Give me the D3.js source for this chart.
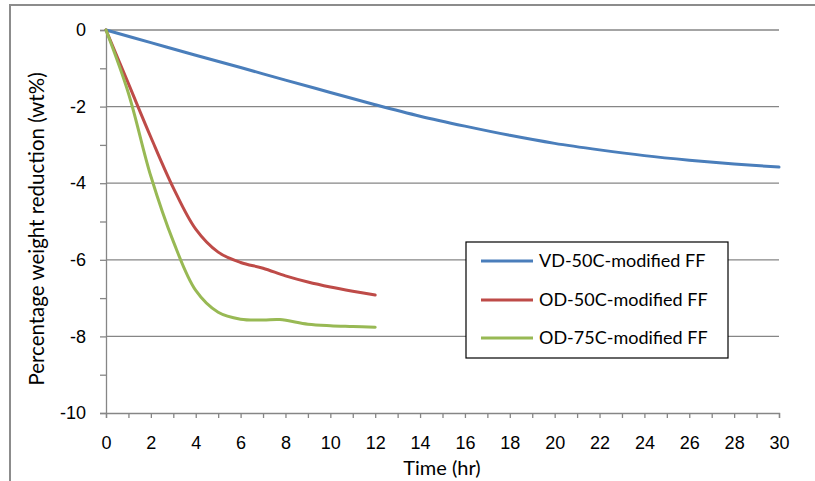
<!DOCTYPE html>
<html>
<head>
<meta charset="utf-8">
<script src="https://cdn.jsdelivr.net/npm/d3@7"></script>
<style>
  html, body { margin: 0; padding: 0; background: #fff; }
  svg { display: block; font-family: Lato, "Liberation Sans", sans-serif; }
</style>
</head>
<body>
<svg id="chart" width="815" height="481"></svg>
<script>
// Drying curves: weight reduction (wt%) over time (hr)
const vdTime  = [0, 2, 4, 6, 8, 10, 12, 14, 16, 18, 20, 22, 24, 26, 28, 30];
const vdValue = [0, -0.33, -0.66, -0.98, -1.31, -1.63, -1.95, -2.25, -2.51, -2.75, -2.96, -3.13, -3.28, -3.40, -3.50, -3.58];

const od50Time  = [0, 1, 2, 3, 4, 5, 6, 7, 8, 9, 10, 11, 12];
const od50Value = [0, -1.40, -2.80, -4.12, -5.20, -5.80, -6.07, -6.22, -6.42, -6.58, -6.71, -6.82, -6.92];

const od75Time  = [0, 1, 2, 3, 4, 5, 6, 7, 7.75, 9, 10, 11, 12];
const od75Value = [0, -1.65, -3.82, -5.52, -6.80, -7.37, -7.55, -7.57, -7.56, -7.68, -7.72, -7.74, -7.76];

const seriesNames  = ["VD-50C-modified FF", "OD-50C-modified FF", "OD-75C-modified FF"];
const seriesColors = ["#4A7EBB", "#BE4B48", "#98B954"];

const xTicks = d3.range(0, 31, 1);
const yTicks = d3.range(-10, 1, 1);
const yGridTicks = d3.range(-8, 1, 2);

const xTitle = "Time (hr)";
const yTitle = "Percentage weight reduction (wt%)";

const series = [
  { name: seriesNames[0], color: seriesColors[0], pts: vdTime.map((t, i) => [t, vdValue[i]]) },
  { name: seriesNames[1], color: seriesColors[1], pts: od50Time.map((t, i) => [t, od50Value[i]]) },
  { name: seriesNames[2], color: seriesColors[2], pts: od75Time.map((t, i) => [t, od75Value[i]]) }
];

const svg = d3.select("#chart");
const axisColor = "#868686";

// Outer chart frame (top and left edges visible)
svg.append("path")
  .attr("d", "M10,481 L10,5 L815,5")
  .attr("fill", "none")
  .attr("stroke", "#8c8c8c")
  .attr("stroke-width", 2);

const x = d3.scaleLinear().domain([0, 30]).range([106, 779]);
const y = d3.scaleLinear().domain([-10, 0]).range([413, 30]);

// Horizontal gridlines
svg.append("g")
  .selectAll("line")
  .data(yGridTicks)
  .join("line")
  .attr("x1", x(0)).attr("x2", x(30))
  .attr("y1", d => y(d)).attr("y2", d => y(d))
  .attr("stroke", axisColor)
  .attr("stroke-width", 1.3);

// Y axis
const yAxis = svg.append("g")
  .attr("transform", `translate(${x(0)},0)`)
  .call(d3.axisLeft(y).tickValues(yTicks).tickSize(6).tickPadding(14)
    .tickFormat(d => (d % 2 === 0 ? String(d) : "")));

// X axis
const xAxis = svg.append("g")
  .attr("transform", `translate(0,${y(-10)})`)
  .call(d3.axisBottom(x).tickValues(xTicks).tickSize(5).tickPadding(18)
    .tickFormat(d => (d % 2 === 0 ? String(d) : "")));

[yAxis, xAxis].forEach(g => {
  g.select(".domain").attr("stroke", axisColor).attr("stroke-width", 1.3);
  g.selectAll(".tick line").attr("stroke", axisColor).attr("stroke-width", 1.3);
  g.selectAll(".tick text").attr("fill", "#000").style("font-size", "18px");
});

// Series lines
const line = d3.line()
  .x(d => x(d[0]))
  .y(d => y(d[1]))
  .curve(d3.curveCatmullRom.alpha(0.5));

svg.append("g")
  .selectAll("path")
  .data(series)
  .join("path")
  .attr("d", d => line(d.pts))
  .attr("fill", "none")
  .attr("stroke", d => d.color)
  .attr("stroke-width", 3)
  .attr("stroke-linejoin", "round")
  .attr("stroke-linecap", "round");

// Axis titles
svg.append("text")
  .attr("x", 442)
  .attr("y", 475)
  .attr("text-anchor", "middle")
  .style("font-size", "20px")
  .text(xTitle);

svg.append("text")
  .attr("transform", "translate(44,229) rotate(-90)")
  .attr("text-anchor", "middle")
  .style("font-size", "20.5px")
  .text(yTitle);

// Legend
const legend = svg.append("g");
legend.append("rect")
  .attr("x", 466).attr("y", 242)
  .attr("width", 262).attr("height", 116)
  .attr("fill", "#fff")
  .attr("stroke", "#000")
  .attr("stroke-width", 1.2);

const rowY = [261, 300, 338];
const items = legend.selectAll("g.item")
  .data(series)
  .join("g")
  .attr("class", "item")
  .attr("transform", (d, i) => `translate(0,${rowY[i]})`);

items.append("line")
  .attr("x1", 481).attr("x2", 533)
  .attr("y1", 0).attr("y2", 0)
  .attr("stroke", d => d.color)
  .attr("stroke-width", 3);

items.append("text")
  .attr("x", 539)
  .attr("y", 0)
  .attr("dy", "0.35em")
  .style("font-size", "18px")
  .text(d => d.name);
</script>
</body>
</html>
